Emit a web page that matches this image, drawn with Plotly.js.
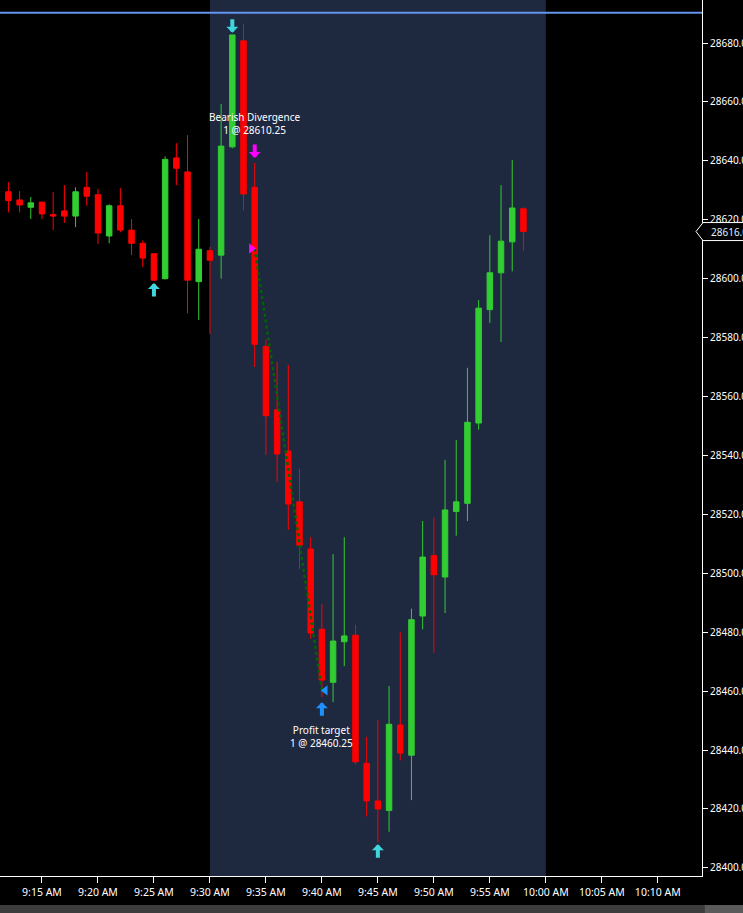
<!DOCTYPE html>
<html>
<head>
<meta charset="utf-8">
<script src="https://cdn.plot.ly/plotly-3.0.1.min.js"></script>
<style>
html,body{margin:0;padding:0;background:#000;}
#chart{width:743px;height:913px;}
</style>
</head>
<body>
<div id="chart"></div>
<script>
const day = '2024-01-03 ';
const times = ['09:12','09:13','09:14','09:15','09:16','09:17','09:18','09:19','09:20','09:21','09:22','09:23','09:24','09:25','09:26','09:27','09:28','09:29','09:30','09:31','09:32','09:33','09:34','09:35','09:36','09:37','09:38','09:39','09:40','09:41','09:42','09:43','09:44','09:45','09:46','09:47','09:48','09:49','09:50','09:51','09:52','09:53','09:54','09:55','09:56','09:57','09:58'];
const open  = [28629.5,28626.75,28624.25,28626.0,28621.75,28623.0,28621.25,28631.0,28628.5,28614.5,28624.75,28616.5,28612.0,28608.5,28600.0,28641.0,28636.25,28599.0,28609.5,28608.0,28644.75,28680.75,28631.0,28577.0,28555.5,28541.5,28524.25,28508.25,28481.0,28463.0,28476.75,28479.0,28435.5,28422.75,28419.5,28448.5,28438.25,28485.5,28506.0,28498.75,28521.0,28523.75,28551.0,28589.5,28602.0,28612.5,28623.75];
const high  = [28632.75,28629.75,28627.75,28626.0,28629.5,28631.75,28631.0,28636.25,28630.5,28625.25,28630.75,28620.25,28613.0,28608.5,28641.5,28646.0,28648.75,28620.25,28610.75,28659.25,28682.75,28686.5,28639.25,28579.25,28571.75,28570.75,28535.5,28512.25,28489.5,28506.5,28512.25,28482.5,28444.5,28450.25,28461.75,28480.0,28488.0,28517.75,28519.0,28538.5,28545.25,28569.75,28592.75,28614.75,28631.75,28640.25,28624.25];
const low   = [28622.5,28622.5,28620.25,28620.25,28616.5,28619.0,28617.5,28624.75,28611.75,28612.0,28615.75,28608.0,28604.0,28599.25,28599.75,28631.75,28588.25,28586.0,28581.25,28600.0,28644.25,28623.25,28570.0,28540.25,28531.0,28514.75,28501.5,28477.75,28458.0,28456.25,28468.5,28435.25,28417.5,28408.75,28412.25,28436.5,28423.0,28481.0,28473.0,28486.5,28512.75,28517.75,28548.75,28585.0,28578.5,28602.5,28609.5];
const close = [28626.5,28625.0,28625.75,28622.0,28621.25,28621.25,28629.5,28628.0,28615.5,28624.75,28616.5,28612.0,28607.0,28599.5,28640.5,28637.5,28599.5,28610.0,28606.25,28645.0,28682.75,28628.75,28577.75,28553.5,28540.5,28523.5,28509.5,28479.75,28463.75,28477.0,28478.75,28436.0,28422.75,28420.0,28448.75,28439.0,28484.25,28505.5,28499.5,28521.5,28524.25,28551.25,28590.0,28602.0,28612.75,28624.0,28616.0];

// signal arrows (time, tip price, direction, colour)
const arrowTimes  = ['09:25','09:32','09:34','09:40','09:45'];
const arrowPrices = [28598.5,28683.5,28641.0,28456.25,28408.0];
const arrowDirs   = ['up','down','down','up','up'];
const arrowColors = ['#3fd6dc','#3fd6dc','#ff00ff','#1e90ff','#3fd6dc'];

// trade
const entryTime = '09:34', entryPrice = 28610.25;
const exitTime  = '09:40', exitPrice  = 28460.25;

// labels
const labelTimes  = ['09:34','09:40'];
const labelPrices = [28652.75,28444.75];
const labelTexts  = ['Bearish Divergence<br>1 @ 28610.25','Profit target<br>1 @ 28460.25'];

const sessionStart = '09:30', sessionEnd = '10:00';
const levelPrice = 28690.25;
const lastPrice = 28616.0;
const xRange = ['09:11:15','10:13:57'];
const yRange = [28397.25, 28694.6];

const T = t => day + t;
const shift = (t, sec) => {
  const d = new Date('2024-01-03T' + t + ':00');
  d.setSeconds(d.getSeconds() + sec);
  const p = n => String(n).padStart(2,'0');
  return day + p(d.getHours()) + ':' + p(d.getMinutes()) + ':' + p(d.getSeconds());
};

const FONT = 'Noto Sans, Open Sans, sans-serif';

const candle = {
  type: 'candlestick',
  x: times.map(T), open: open, high: high, low: low, close: close,
  increasing: {line: {color: '#32cd32', width: 1}, fillcolor: '#32cd32'},
  decreasing: {line: {color: '#ff0000', width: 1}, fillcolor: '#ff0000'},
  whiskerwidth: 0,
  hoverinfo: 'skip',
  showlegend: false
};

const tradeLine = {
  type: 'scatter', mode: 'lines',
  x: [T(entryTime), T(exitTime)], y: [entryPrice, exitPrice],
  line: {color: '#006400', width: 2.5, dash: 'dot'},
  hoverinfo: 'skip', showlegend: false
};

const entryMarker = {
  type: 'scatter', mode: 'markers',
  x: [shift(entryTime, -18)], y: [entryPrice],
  marker: {symbol: 'triangle-right', size: 9, color: '#ff00ff'},
  hoverinfo: 'skip', showlegend: false
};
const exitMarker = {
  type: 'scatter', mode: 'markers',
  x: [shift(exitTime, 18)], y: [exitPrice],
  marker: {symbol: 'triangle-left', size: 9, color: '#1e90ff'},
  hoverinfo: 'skip', showlegend: false
};

const annotations = [];
arrowTimes.forEach((t, i) => {
  annotations.push({
    x: T(t), y: arrowPrices[i], xref: 'x', yref: 'y',
    text: '', showarrow: true,
    ax: 0, ay: arrowDirs[i] === 'up' ? 15 : -15,
    arrowcolor: arrowColors[i], arrowwidth: 4, arrowhead: 1, arrowsize: 0.5,
    standoff: 0, startstandoff: 0
  });
});
labelTimes.forEach((t, i) => {
  annotations.push({
    x: T(t), y: labelPrices[i], xref: 'x', yref: 'y',
    text: labelTexts[i], showarrow: false,
    font: {family: FONT, size: 10, color: '#ffffff'},
    xanchor: 'center', yanchor: 'middle', align: 'center'
  });
});
annotations.push({
  x: 1, xref: 'paper', y: lastPrice, yref: 'y',
  text: lastPrice.toFixed(2), showarrow: false,
  xanchor: 'left', yanchor: 'middle', xshift: 7,
  font: {family: FONT, size: 10, color: '#dff2ff'}
});

const shapes = [
  {type: 'rect', xref: 'x', yref: 'paper', x0: T(sessionStart), x1: T(sessionEnd), y0: 0, y1: 1,
   fillcolor: '#1e283f', line: {width: 0}, layer: 'below'},
  {type: 'line', xref: 'paper', yref: 'y', x0: 0, x1: 1, y0: levelPrice, y1: levelPrice,
   line: {color: '#6495ed', width: 2}},
  {type: 'path', xref: 'paper', yref: 'y', xsizemode: 'pixel', ysizemode: 'pixel',
   xanchor: 1, yanchor: lastPrice,
   path: 'M -6 0 L 1 9 L 60 9 L 60 -9 L 1 -9 Z',
   fillcolor: '#000000', line: {color: '#ffffff', width: 1}},
  {type: 'rect', xref: 'paper', yref: 'paper', x0: 0, x1: 1.06, y0: -0.0331, y1: -0.045,
   fillcolor: '#3c3c3c', line: {width: 0}},
  {type: 'rect', xref: 'paper', yref: 'paper', x0: 1.004, x1: 1.06, y0: -0.0331, y1: -0.045,
   fillcolor: '#5a5a5a', line: {width: 0}}
];

const layout = {
  width: 743, height: 913,
  margin: {l: 0, r: 41, t: 0, b: 37},
  paper_bgcolor: '#000000', plot_bgcolor: '#000000',
  font: {family: FONT, size: 11, color: '#ffffff'},
  showlegend: false,
  xaxis: {
    type: 'date', range: xRange.map(T),
    rangeslider: {visible: false},
    showgrid: false, zeroline: false,
    showline: true, linecolor: '#ffffff', linewidth: 1,
    ticks: 'outside', ticklen: 6, tickcolor: '#ffffff', tickwidth: 1,
    dtick: 300000, tick0: T('09:00'),
    tickformat: '%-I:%M %p',
    tickfont: {family: FONT, size: 10.5, color: '#ffffff'},
    fixedrange: true
  },
  yaxis: {
    side: 'right', range: yRange,
    showgrid: false, zeroline: false,
    showline: true, linecolor: '#ffffff', linewidth: 1,
    ticks: 'outside', ticklen: 5, tickcolor: '#ffffff', tickwidth: 1,
    dtick: 20, tick0: 28400, tickformat: '.2f',
    tickfont: {family: FONT, size: 10, color: '#ffffff'},
    fixedrange: true
  },
  shapes: shapes,
  annotations: annotations
};

Plotly.newPlot('chart', [candle, tradeLine, entryMarker, exitMarker], layout, {displayModeBar: false, staticPlot: true});
</script>
</body>
</html>
